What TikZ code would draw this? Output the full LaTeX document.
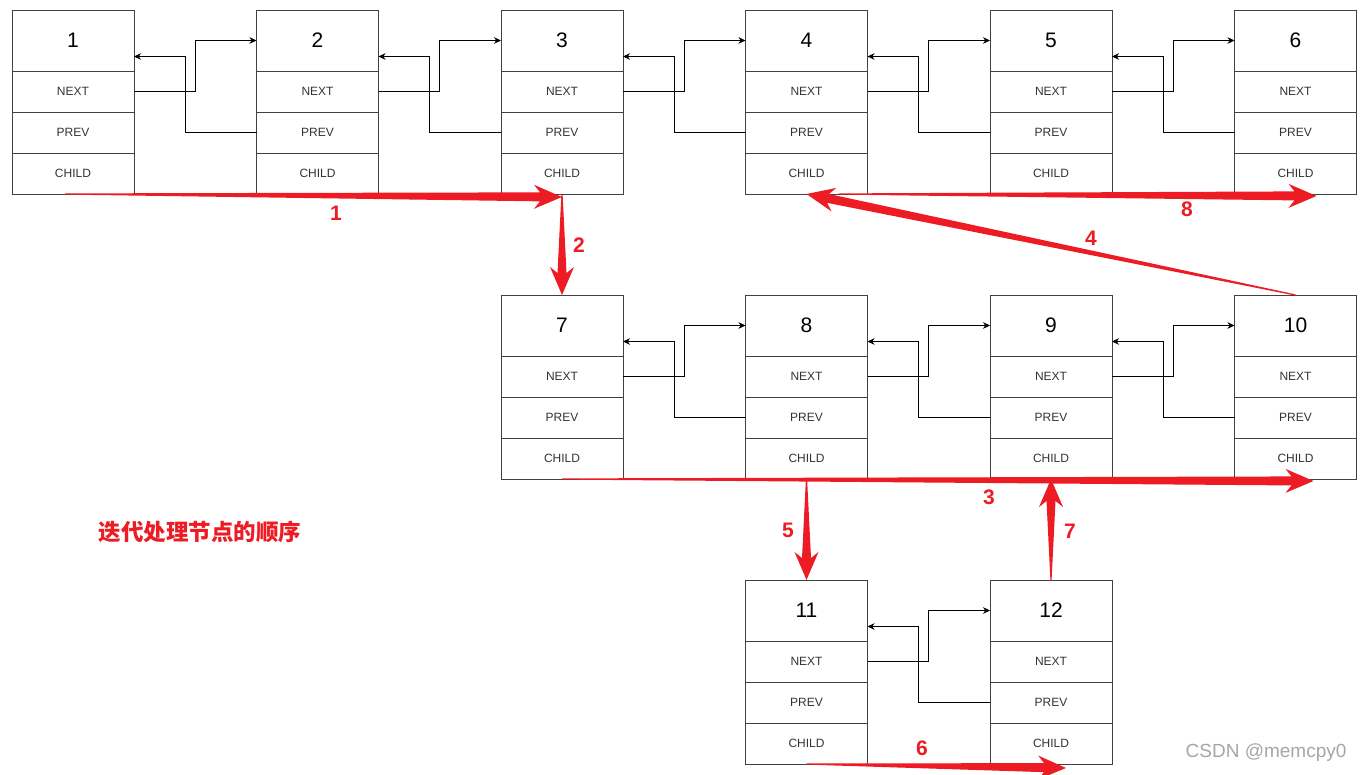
\documentclass[tikz,border=0pt]{standalone}
\usepackage{fontspec}
\setmainfont{Liberation Sans}
\newfontfamily\cjk{Noto Sans CJK SC}
\usetikzlibrary{positioning,calc,arrows.meta}

\definecolor{flowred}{RGB}{237,28,36}

\tikzset{
	head/.style={draw=black!75, anchor=north west, minimum width=122pt, minimum height=61pt,
		inner sep=0pt, outer sep=0pt, font=\fontsize{21}{21}\selectfont},
	field/.style={draw=black!75, minimum width=122pt, minimum height=41pt,
		inner sep=0pt, outer sep=0pt, text=black!80, font=\fontsize{12}{12}\selectfont},
	link/.style={-{Stealth[length=7pt,width=6.5pt]}, semithick},
	flow/.style={fill=flowred},
	order/.style={text=flowred, font=\bfseries\fontsize{21}{21}\selectfont}
}

% tapered red arrow from #1 to #2
\newcommand{\flowarrow}[2]{
	\path (#1) coordinate (tail) (#2) coordinate (tip);
	\path ($(tip)!22pt!(tail)$) coordinate (neck) ($(tip)!28pt!(tail)$) coordinate (barb);
	\fill[flow] ($(tail)!0.6pt!90:(tip)$) -- ($(neck)!4.5pt!90:(tip)$) -- ($(barb)!12pt!90:(tip)$) -- (tip)
		-- ($(barb)!12pt!-90:(tip)$) -- ($(neck)!4.5pt!-90:(tip)$) -- ($(tail)!0.6pt!-90:(tip)$) -- cycle;
}

\begin{document}
\begin{tikzpicture}[x=1pt, y=-1pt]
	\useasboundingbox (0,0) rectangle (1365,775);
	% list nodes
	\foreach \n/\x/\y in {1/12/10, 2/256.5/10, 3/501/10, 4/745.5/10, 5/990/10, 6/1234.5/10,
		7/501/295, 8/745.5/295, 9/990/295, 10/1234.5/295, 11/745.5/580, 12/990/580} {
		\node[head] (n\n) at (\x,\y) {\n};
		\node[field, below=0pt of n\n] (n\n-next) {NEXT};
		\node[field, below=0pt of n\n-next] (n\n-prev) {PREV};
		\node[field, below=0pt of n\n-prev] (n\n-child) {CHILD};
	}
	% next / prev pointers
	\foreach \a/\b in {1/2, 2/3, 3/4, 4/5, 5/6, 7/8, 8/9, 9/10, 11/12} {
		\draw[link] (n\a-next.east) -- ++(61,0) |- (n\b.west);
		\draw[link] (n\b-prev.west) -- ++(-71.5,0) |- ([yshift=-16pt]n\a.east);
	}
	% order of visiting
	\flowarrow{[xshift=-8pt]n1-child.south}{[yshift=-3pt]n3-child.south}
	\flowarrow{n3-child.south}{n7.north}
	\flowarrow{n7-child.south}{[xshift=18pt,yshift=-2pt]n10-child.south}
	\flowarrow{n10.north}{n4-child.south}
	\flowarrow{n8-child.south}{n11.north}
	\flowarrow{n11-child.south}{[xshift=15pt,yshift=-4pt]n12-child.south}
	\flowarrow{n12.north}{n9-child.south}
	\flowarrow{[xshift=32pt]n4-child.south}{[xshift=21pt,yshift=-2pt]n6-child.south}
	\node[order] (o1) at (336,213) {1};
	\node[order] (o2) at (579,245) {2};
	\node[order] (o3) at (989,497) {3};
	\node[order] (o4) at (1091,238) {4};
	\node[order] (o5) at (788,530) {5};
	\node[order] (o6) at (922,748) {6};
	\node[order] (o7) at (1070,531) {7};
	\node[order] (o8) at (1187,209) {8};
	\node[order, font=\cjk\bfseries\fontsize{22.5}{22.5}\selectfont] (title) at (200,532) {迭代处理节点的顺序};
	\node[text=black!35, anchor=east, font=\fontsize{19}{19}\selectfont] (mark) at (1350,753) {CSDN @memcpy0};
\end{tikzpicture}
\end{document}
